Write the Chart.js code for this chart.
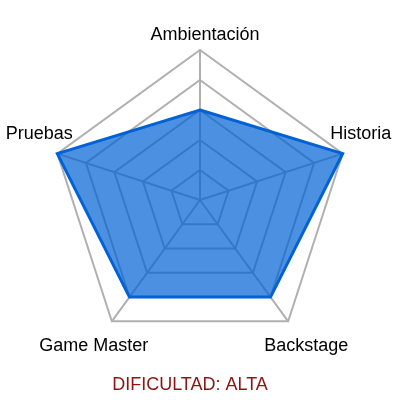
<!DOCTYPE html>
<html>
<head>
<meta charset="utf-8">
<script src="https://cdn.jsdelivr.net/npm/chart.js@4/dist/chart.umd.min.js"></script>
<style>
html,body{margin:0;padding:0;background:#fff;}
#wrap{width:400px;height:400px;}
</style>
</head>
<body>
<div id="wrap"><canvas id="c" width="400" height="400"></canvas></div>
<script>
const categories = ["Ambientación", "Historia", "Backstage", "Game Master", "Pruebas"];
const values = [3, 5, 4, 4, 5];
const scaleMin = 0;
const scaleMax = 5;
const scaleStep = 1;
const titleText = "DIFICULTAD: ALTA";

const FONT = "'Liberation Sans', Arial, Helvetica, sans-serif";

const labelPlugin = {
  id: 'cornerLabels',
  afterDraw(chart) {
    const scale = chart.scales.r;
    const ctx = chart.ctx;
    ctx.save();
    ctx.font = "18px " + FONT;
    ctx.fillStyle = "#000";
    ctx.textAlign = "center";
    ctx.textBaseline = "middle";
    const labels = chart.data.labels;
    for (let i = 0; i < labels.length; i++) {
      const p = scale.getPointPosition(i, scale.drawingArea);
      const relX = p.x - scale.xCenter;
      const relY = p.y - scale.yCenter;
      let dx, dy;
      if (Math.abs(relX) < 1) { dx = 5; dy = -15.5; }
      else {
        dx = Math.sign(relX) * 18;
        dy = relY < 0 ? -20.5 : 23.5;
      }
      ctx.fillText(labels[i], p.x + dx, p.y + dy + 1);
    }
    ctx.restore();
  }
};

new Chart(document.getElementById('c'), {
  type: 'radar',
  data: {
    labels: categories,
    datasets: [{
      data: values,
      backgroundColor: 'rgba(0, 98, 212, 0.7)',
      borderColor: '#0062d4',
      borderWidth: 3,
      pointRadius: 0,
      pointHoverRadius: 0,
      tension: 0,
      fill: true
    }]
  },
  options: {
    responsive: false,
    animation: false,
    devicePixelRatio: 1,
    layout: { padding: { left: 30, right: 50, top: 50, bottom: 0 } },
    plugins: {
      legend: { display: false },
      tooltip: { enabled: false },
      title: {
        display: true,
        position: 'bottom',
        text: titleText,
        color: '#8b1414',
        font: { family: FONT, size: 18, weight: 'normal' },
        padding: { top: 24, bottom: 4.4 }
      }
    },
    scales: {
      r: {
        min: scaleMin,
        max: scaleMax,
        beginAtZero: true,
        ticks: { display: false, stepSize: scaleStep },
        pointLabels: { display: false },
        grid: { color: '#b0b0b0', lineWidth: 2 },
        angleLines: { color: '#b0b0b0', lineWidth: 2 },
        afterFit: (s) => { s.xCenter += 10; }
      }
    }
  },
  plugins: [labelPlugin]
});
</script>
</body>
</html>
